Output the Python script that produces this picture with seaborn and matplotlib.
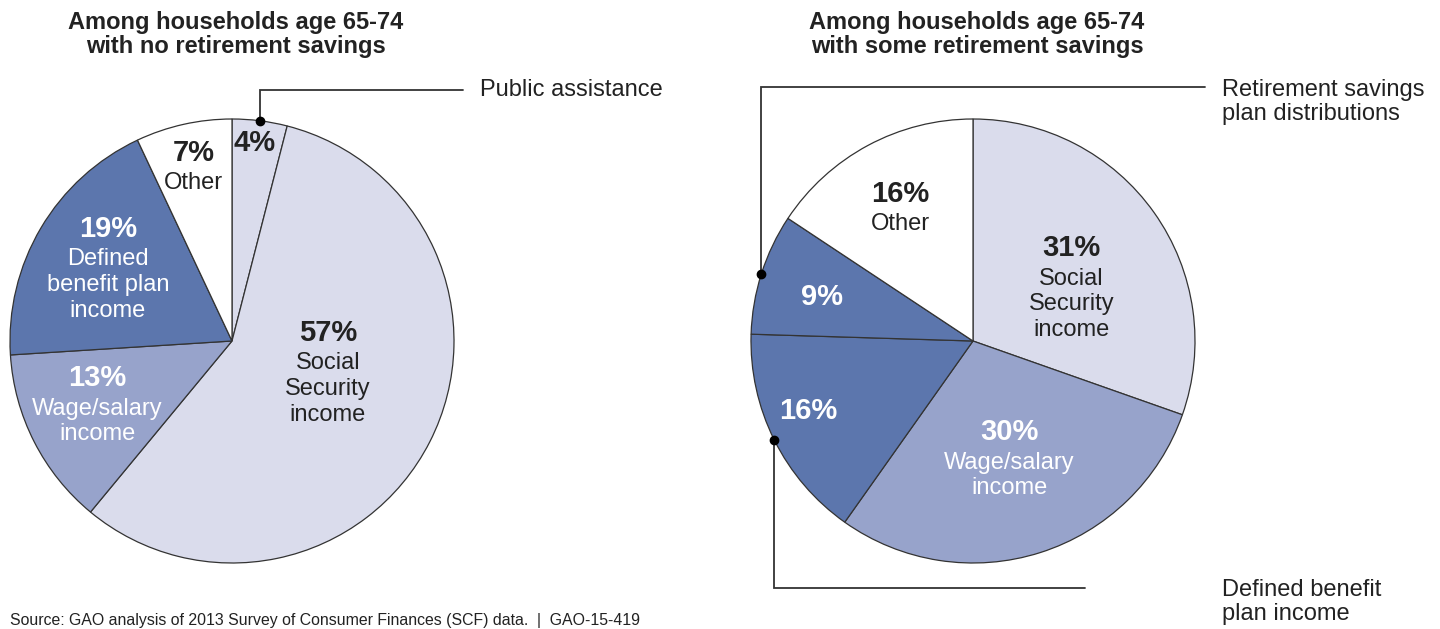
import numpy as np
import seaborn as sns
import matplotlib.pyplot as plt

# Left pie: households with no retirement savings (clockwise from 12 o'clock)
left_labels = ["Public assistance", "Social Security income", "Wage/salary income",
               "Defined benefit plan income", "Other"]
left_values = [4, 57, 13, 19, 7]

# Right pie: households with some retirement savings
right_labels = ["Social Security income", "Wage/salary income", "Defined benefit plan income",
                "Retirement savings plan distributions", "Other"]
right_values = [31, 30, 16, 9, 16]

left_title = "Among households age 65-74\nwith no retirement savings"
right_title = "Among households age 65-74\nwith some retirement savings"
source_note = "Source: GAO analysis of 2013 Survey of Consumer Finances (SCF) data.  |  GAO-15-419"

LIGHT = "#dadcec"
MEDIUM = "#97a3cb"
DARK = "#5c76ad"
WHITE = "#ffffff"
TXT = "#222222"

left_colors = [LIGHT, LIGHT, MEDIUM, DARK, WHITE]
right_colors = [LIGHT, MEDIUM, DARK, DARK, WHITE]

# in-slice text: (percent, sub label, text colour, radius fraction, angle nudge)
left_text = [
    ("4%", "", TXT, 0.90, 0.6),
    ("57%", "Social\nSecurity\nincome", TXT, 0.457, 8),
    ("13%", "Wage/salary\nincome", "white", 0.675, -1.1),
    ("19%", "Defined\nbenefit plan\nincome", "white", 0.644, 0.8),
    ("7%", "Other", TXT, 0.80, 0),
]
right_text = [
    ("31%", "Social\nSecurity\nincome", TXT, 0.50, -7.6),
    ("30%", "Wage/salary\nincome", "white", 0.562, -0.85),
    ("16%", "", "white", 0.807, -3.5),
    ("9%", "", "white", 0.708, 1.4),
    ("16%", "Other", TXT, 0.68, 0.7),
]

H = 629
PCT_SIZE = 21
SUB_SIZE = 17
NOTE_SIZE = 17


def draw_pie(ax, values, colors, center, radius, texts):
    wedges, _ = ax.pie(values, colors=colors, startangle=90, counterclock=False,
                       center=center, radius=radius,
                       wedgeprops=dict(edgecolor="#333333", linewidth=0.9))
    for w, (pct, sub, col, rf, nudge) in zip(wedges, texts):
        mid = np.deg2rad((w.theta1 + w.theta2) / 2 + nudge)
        x = center[0] + rf * radius * np.cos(mid)
        y = center[1] + rf * radius * np.sin(mid)
        if sub:
            n = sub.count("\n") + 1
            half = (30 + (n - 1) * 26) / 2
            ax.text(x, y + half, pct, ha="center", va="center", fontsize=PCT_SIZE,
                    fontweight="bold", color=col)
            ax.text(x, y + half - 30 - (n - 1) * 13, sub, ha="center", va="center",
                    fontsize=SUB_SIZE, color=col, linespacing=1.22)
        else:
            ax.text(x, y, pct, ha="center", va="center", fontsize=PCT_SIZE,
                    fontweight="bold", color=col)
    return wedges


def edge_point(w, center, radius):
    mid = np.deg2rad((w.theta1 + w.theta2) / 2)
    return center[0] + radius * np.cos(mid), center[1] + radius * np.sin(mid)


def main():
    sns.set_theme(style="white")
    plt.rcParams["font.family"] = ["Liberation Sans", "DejaVu Sans"]

    fig = plt.figure(figsize=(14.4, 6.29), dpi=100)
    ax = fig.add_axes([0, 0, 1, 1])

    lc, rc, r = (232, H - 341), (973, H - 341), 222
    lw = draw_pie(ax, left_values, left_colors, lc, r, left_text)
    rw = draw_pie(ax, right_values, right_colors, rc, r, right_text)

    ax.set_xlim(0, 1440)
    ax.set_ylim(0, H)
    ax.set_aspect("equal")
    ax.axis("off")

    # titles
    ax.text(236, H - 34.5, left_title, ha="center", va="center", fontsize=17,
            fontweight="bold", color=TXT, linespacing=1.06)
    ax.text(977, H - 34.5, right_title, ha="center", va="center", fontsize=17,
            fontweight="bold", color=TXT, linespacing=1.06)

    line_kw = dict(color="#333333", linewidth=1.3, solid_joinstyle="miter")

    # Public assistance call-out
    px, py = edge_point(lw[0], lc, r)
    ax.plot([px, px, 463], [py, H - 90, H - 90], **line_kw)
    ax.plot(px, py, "o", color="black", markersize=6)
    ax.text(480, H - 90, left_labels[0], ha="left", va="center", fontsize=NOTE_SIZE, color=TXT)

    # Retirement savings plan distributions call-out
    qx, qy = edge_point(rw[3], rc, r)
    ax.plot([qx, qx, 1205], [qy, H - 87, H - 87], **line_kw)
    ax.plot(qx, qy, "o", color="black", markersize=6)
    ax.text(1222, H - 102, "Retirement savings\nplan distributions", ha="left", va="center",
            fontsize=NOTE_SIZE, color=TXT, linespacing=1.13)

    # Defined benefit plan income call-out
    dx, dy = edge_point(rw[2], rc, r)
    ax.plot([dx, dx, 1085], [dy, H - 588, H - 588], **line_kw)
    ax.plot(dx, dy, "o", color="black", markersize=6)
    ax.text(1222, H - 602, "Defined benefit\nplan income", ha="left", va="center",
            fontsize=NOTE_SIZE, color=TXT, linespacing=1.13)

    ax.text(10, H - 620, source_note, ha="left", va="center", fontsize=11.4, color=TXT)

    fig.savefig("out.png", dpi=100)


if __name__ == "__main__":
    main()
